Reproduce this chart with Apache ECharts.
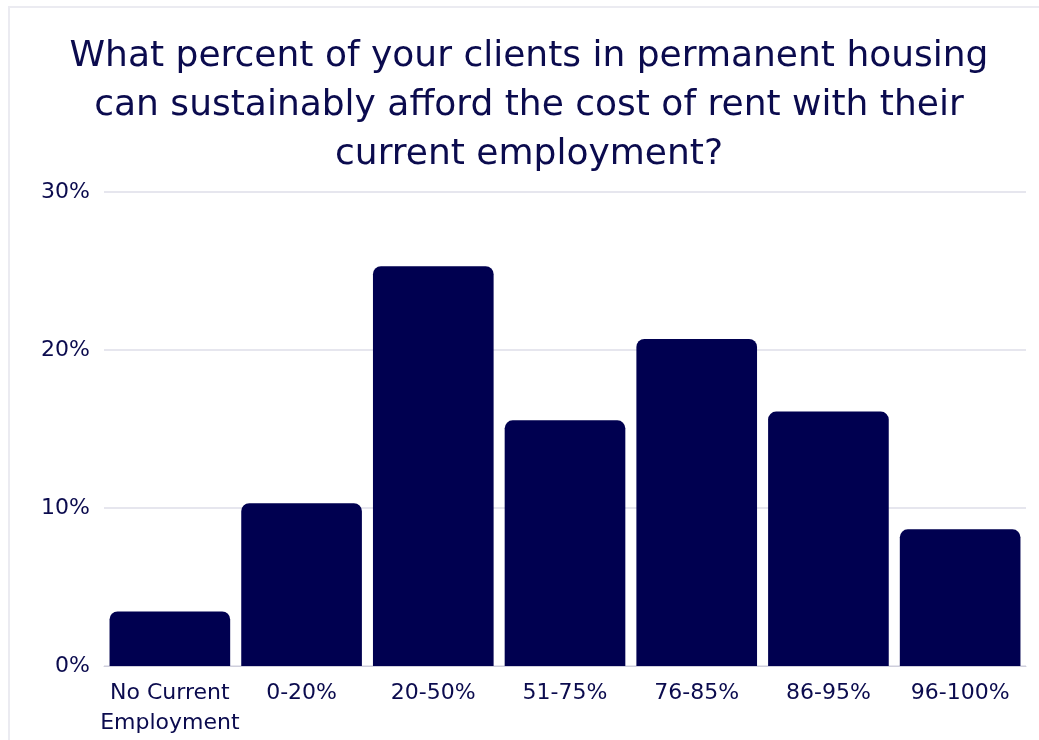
<!DOCTYPE html>
<html>
<head>
<meta charset="utf-8">
<style>
  html, body { margin: 0; padding: 0; background: #ffffff; }
  #chart { width: 1039px; height: 740px; }
</style>
<script src="https://cdn.jsdelivr.net/npm/echarts@6/dist/echarts.min.js"></script>
</head>
<body>
<div id="chart"></div>
<script>
// Share of clients in permanent housing who can afford rent, by bucket
const categories = ['No Current\nEmployment', '0-20%', '20-50%', '51-75%', '76-85%', '86-95%', '96-100%'];
const shares = [3.45, 10.3, 25.3, 15.55, 20.7, 16.1, 8.65];
const yTicks = [0, 10, 20, 30];
const titleLines = [
  'What percent of your clients in permanent housing',
  'can sustainably afford the cost of rent with their',
  'current employment?'
];

const NAVY = '#000050';
const TEXT = '#0b0b4e';
const FONT = '"DejaVu Sans", "Noto Sans", sans-serif';

const chart = echarts.init(document.getElementById('chart'), null, { renderer: 'canvas' });

chart.setOption({
  animation: false,
  backgroundColor: '#ffffff',
  graphic: [
    {
      type: 'rect',
      shape: { x: 9, y: 7, width: 1060, height: 760 },
      style: { fill: 'none', stroke: '#ebebf1', lineWidth: 2 },
      silent: true,
      z: 0
    },
    {
      type: 'text',
      x: 529,
      y: 32,
      style: {
        text: titleLines.join('\n'),
        fill: TEXT,
        font: 'normal 36px ' + FONT,
        textAlign: 'center',
        textVerticalAlign: 'top',
        lineHeight: 49
      },
      z: 10
    }
  ],
  grid: { left: 104, right: 13, top: 192, bottom: 74, containLabel: false },
  xAxis: {
    type: 'category',
    data: categories,
    axisLine: { show: true, lineStyle: { color: '#cfcfdc', width: 1 } },
    axisTick: { show: false },
    axisLabel: {
      color: TEXT,
      fontFamily: FONT,
      fontSize: 22,
      lineHeight: 30,
      margin: 12,
      interval: 0
    }
  },
  yAxis: {
    type: 'value',
    min: yTicks[0],
    max: yTicks[yTicks.length - 1],
    interval: 10,
    axisLine: { show: false },
    axisTick: { show: false },
    splitLine: { lineStyle: { color: '#e6e6ee', width: 2 } },
    axisLabel: {
      color: TEXT,
      fontFamily: FONT,
      fontSize: 22,
      margin: 14,
      formatter: v => v + '%'
    }
  },
  series: [
    {
      type: 'bar',
      data: shares,
      barCategoryGap: '8.4%',
      itemStyle: { color: NAVY, borderRadius: [8, 8, 0, 0] },
      z: 5
    }
  ]
});
</script>
</body>
</html>
